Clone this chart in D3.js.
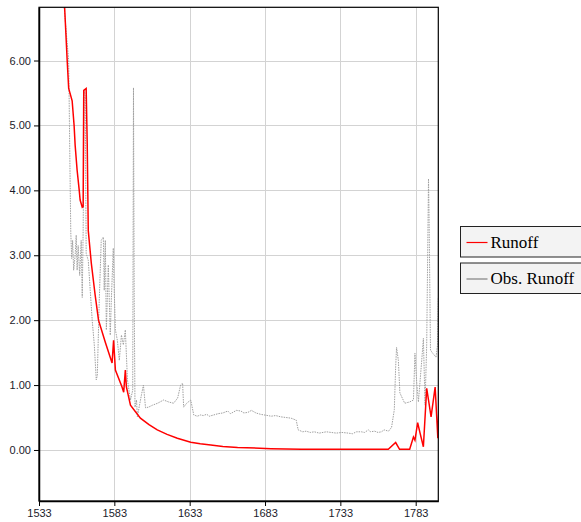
<!DOCTYPE html>
<html>
<head>
<meta charset="utf-8">
<script src="https://d3js.org/d3.v7.min.js"></script>
<style>
body { margin: 0; background: #fff; }
</style>
</head>
<body>
<div id="chart"></div>
<script>
"use strict";
var w = 581;//width of the window
var h = 522;//height of the window

// simulated runoff (red)
var runoffDays = [1548, 1550, 1551.7, 1552.7, 1555, 1556.3, 1557, 1558.3, 1559.7, 1560.3, 1561.7, 1562.3,
    1562.7, 1564.3, 1565, 1565.7, 1567.7, 1570.3, 1572.5, 1577, 1581.5, 1582.5, 1583.7, 1588.1, 1589.2,
    1590.3, 1591, 1593.7, 1600.3, 1606, 1611.5, 1618, 1624.8, 1633.7, 1640, 1647, 1655, 1664.8, 1687,
    1707, 1764.8, 1769.7, 1772.3, 1779, 1781.5, 1782.5, 1784.3, 1785.9, 1788.1, 1790.3, 1791.5, 1793.2,
    1795.9, 1797.7, 1799];
var runoffValues = [7.2, 6.82, 6.0, 5.57, 5.38, 5.0, 4.69, 4.31, 4.0, 3.85, 3.74, 3.75,
    5.54, 5.57, 4.72, 3.38, 2.88, 2.38, 2.0, 1.66, 1.34, 1.69, 1.23, 0.97, 0.89,
    1.23, 0.97, 0.69, 0.49, 0.39, 0.31, 0.24, 0.18, 0.12, 0.095, 0.077, 0.055, 0.04, 0.02,
    0.01, 0.01, 0.115, 0.01, 0.01, 0.2, 0.15, 0.42, 0.26, 0.05, 0.95, 0.77, 0.51,
    0.97, 0.18, 1.0];

// observed runoff (grey)
var obsDays = [1548.3, 1549.7, 1551, 1552.7, 1553.2, 1553.7, 1554.1, 1554.7, 1555.3, 1556, 1557, 1557.7,
    1558.3, 1559, 1560, 1561, 1561.7, 1562.3, 1563, 1563.7, 1564.3, 1565.7, 1567, 1568.3, 1569.7, 1571,
    1571.7, 1573, 1574.3, 1575.7, 1576.3, 1577, 1577.7, 1579, 1580.3, 1581, 1582.3, 1582.7, 1583.7, 1585,
    1586.3, 1587.7, 1589, 1590.3, 1591.7, 1593.7, 1595.2, 1595.7, 1596.2, 1596.7, 1597.7, 1598.3, 1599.7,
    1601, 1602.3, 1603.7, 1605.7, 1608.3, 1611.7, 1615.7, 1619, 1622.3, 1625, 1627, 1628.3, 1629, 1631,
    1633.7, 1635.7, 1638, 1640.3, 1642, 1644.3, 1646, 1649, 1652, 1655, 1658.3, 1660, 1661.7, 1664, 1667,
    1669, 1671.7, 1674, 1677, 1680, 1682.3, 1685, 1687, 1690, 1693.7, 1697, 1700.3, 1703.7, 1705, 1708,
    1710.3, 1713, 1715.7, 1719, 1723.7, 1727, 1730.3, 1734, 1738.3, 1741, 1743.7, 1747, 1749, 1751.7,
    1753, 1755.7, 1758, 1760.3, 1762, 1765, 1767, 1768.8, 1769.7, 1770.3, 1771.5, 1772.5, 1775.7, 1779,
    1781.5, 1782.5, 1783.7, 1784.8, 1787, 1788.1, 1789.2, 1790.3, 1791.5, 1791.9, 1792.8, 1794.3, 1796.5,
    1797.5, 1798];
var obsValues = [6.92, 6.82, 6.46, 6.0, 5.03, 4.05, 3.35, 2.95, 3.23, 2.77, 3.0, 3.31,
    2.77, 3.15, 2.69, 3.23, 2.35, 3.38, 5.54, 5.46, 3.03, 2.92, 2.46, 2.0, 1.62, 1.08,
    1.15, 2.31, 3.23, 3.28, 2.46, 3.23, 1.85, 2.85, 1.77, 2.31, 3.11, 2.65, 1.85, 1.69,
    1.38, 1.77, 1.62, 1.85, 1.08, 0.77, 0.92, 5.58, 2.31, 0.66, 0.77, 0.51, 0.69,
    0.85, 1.0, 0.65, 0.66, 0.69, 0.72, 0.77, 0.74, 0.72, 0.8, 1.0, 1.03, 0.66, 0.72,
    0.77, 0.54, 0.52, 0.54, 0.53, 0.55, 0.52, 0.54, 0.56, 0.57, 0.6, 0.56, 0.58, 0.61, 0.6,
    0.57, 0.58, 0.61, 0.57, 0.55, 0.54, 0.53, 0.52, 0.53, 0.51, 0.5, 0.49, 0.46, 0.31, 0.28,
    0.29, 0.27, 0.28, 0.26, 0.28, 0.27, 0.26, 0.27, 0.26, 0.25, 0.28, 0.28, 0.27, 0.31,
    0.28, 0.29, 0.27, 0.28, 0.31, 0.29, 0.35, 0.62, 1.28, 1.58, 1.38, 0.88, 0.72, 0.74,
    0.77, 1.49, 1.03, 0.74, 1.38, 1.72, 0.69, 1.62, 4.18, 3.54, 1.54, 1.49, 1.43,
    1.62, 2.35];

var xTicks = [1533, 1583, 1633, 1683, 1733, 1783];
var yTicks = [0, 1, 2, 3, 4, 5, 6];
var legendNames = ["Runoff", "Obs. Runoff"];
var legendColors = ["#ff0000", "#808080"];

function init() {
    draw();
};
window.onload = init;

function draw() {
    var left = 39, right = 438.3, top = 7.3, bottom = 501;

    var svg = d3.select("#chart")
                .append("svg")
                .attr("width", w)
                .attr("height", h);

    var x = d3.scaleLinear().domain([1533, 1798]).range([left, right]);
    var y = d3.scaleLinear().domain([-0.786, 6.82]).range([bottom, top]);

    // grid lines
    svg.append("g")
        .selectAll("line")
        .data(xTicks.slice(1))
        .enter()
        .append("line")
        .attr("x1", function(d){ return Math.round(x(d)) + 0.5; })
        .attr("x2", function(d){ return Math.round(x(d)) + 0.5; })
        .attr("y1", top)
        .attr("y2", bottom)
        .attr("stroke", "#d3d3d3");
    svg.append("g")
        .selectAll("line")
        .data(yTicks)
        .enter()
        .append("line")
        .attr("x1", left)
        .attr("x2", right)
        .attr("y1", function(d){ return Math.round(y(d)) + 0.5; })
        .attr("y2", function(d){ return Math.round(y(d)) + 0.5; })
        .attr("stroke", "#d3d3d3");

    svg.append("clipPath")
        .attr("id", "plotclip")
        .append("rect")
        .attr("x", left)
        .attr("y", top)
        .attr("width", right - left)
        .attr("height", bottom - top);

    var obsData = obsDays.map(function(d, i){ return [d, obsValues[i]]; });
    var runoffData = runoffDays.map(function(d, i){ return [d, runoffValues[i]]; });

    var line = d3.line()
        .x(function(d){ return x(d[0]); })
        .y(function(d){ return y(d[1]); });

    var plot = svg.append("g").attr("clip-path", "url(#plotclip)");
    plot.append("path")
        .datum(obsData)
        .attr("d", line)
        .attr("fill", "none")
        .attr("stroke", "#a0a0a0")
        .attr("stroke-width", 1)
        .attr("stroke-dasharray", "1.5,1");
    plot.append("path")
        .datum(runoffData)
        .attr("d", line)
        .attr("fill", "none")
        .attr("stroke", "#ff0000")
        .attr("stroke-width", 1.5);

    // frame
    svg.append("rect")
        .attr("x", left)
        .attr("y", top)
        .attr("width", right - left)
        .attr("height", bottom - top)
        .attr("fill", "none")
        .attr("stroke", "#000")
        .attr("stroke-width", 1.2);

    var xAxis = d3.axisBottom(x).tickValues(xTicks).tickSize(5).tickSizeOuter(0).tickPadding(3)
        .tickFormat(d3.format("d"));
    var yAxis = d3.axisLeft(y).tickValues(yTicks).tickSize(5).tickSizeOuter(0).tickPadding(3)
        .tickFormat(d3.format(".2f"));

    var gx = svg.append("g").attr("transform", "translate(0," + bottom + ")").call(xAxis);
    var gy = svg.append("g").attr("transform", "translate(" + left + ",0)").call(yAxis);
    [gx, gy].forEach(function(g){
        g.select(".domain").attr("stroke", "#000").attr("stroke-width", 1.5);
        g.selectAll(".tick line").attr("stroke", "#000");
        g.selectAll("text")
            .attr("fill", "#1b1b2b")
            .style("font-family", "Arial, 'Liberation Sans', sans-serif")
            .style("font-size", "11px");
    });

    // legend
    var legend = svg.append("g")
        .selectAll("g")
        .data(legendNames)
        .enter()
        .append("g")
        .attr("transform", function(d, i){ return "translate(460.5," + (226.5 + i * 36.5) + ")"; });
    legend.append("rect")
        .attr("width", 135)
        .attr("height", 30.5)
        .attr("fill", "#f3f3f3")
        .attr("stroke", "#222");
    legend.append("line")
        .attr("x1", 6)
        .attr("x2", 27)
        .attr("y1", 16)
        .attr("y2", 16)
        .attr("stroke", function(d, i){ return legendColors[i]; })
        .attr("stroke-width", 1.2);
    legend.append("text")
        .attr("x", 30)
        .attr("y", 21)
        .style("font-family", "'Liberation Serif', 'Times New Roman', serif")
        .style("font-size", "17px")
        .attr("fill", "#000")
        .text(function(d){ return d; });
};
</script>
</body>
</html>
